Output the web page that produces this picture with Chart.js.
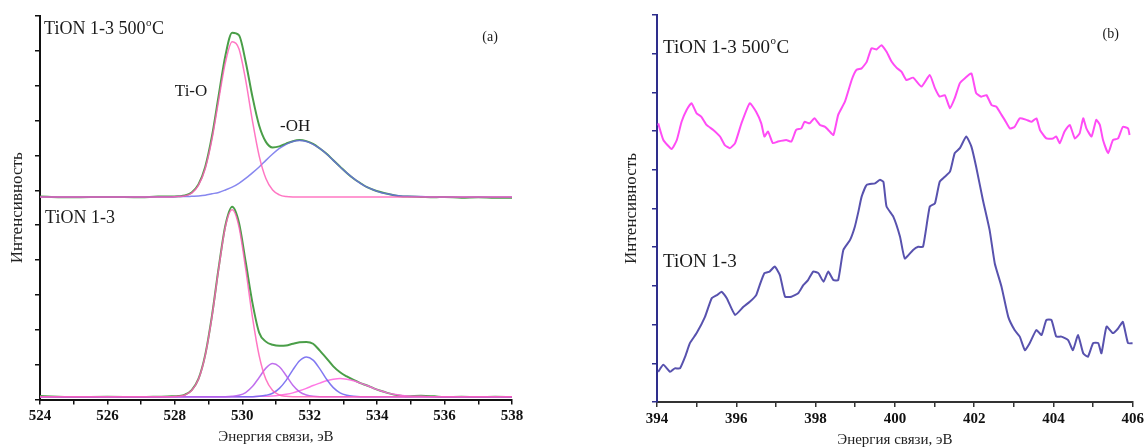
<!DOCTYPE html>
<html>
<head>
<meta charset="utf-8">
<script src="https://cdn.jsdelivr.net/npm/chart.js@4.4.1/dist/chart.umd.min.js"></script>
<style>
  html, body { margin: 0; padding: 0; background: #fff; }
  #wrap { position: relative; width: 1147px; height: 448px; }
  #chartO { position: absolute; left: 0; top: 0; }
  #chartN { position: absolute; left: 600px; top: 0; }
</style>
</head>
<body>
<div id="wrap">
  <canvas id="chartO" width="590" height="448"></canvas>
  <canvas id="chartN" width="547" height="448"></canvas>
</div>
<script>
// ---- (a) O1s: shared energy grid, eV
var energyO1s = [524, 525, 526, 527, 527.5, 527.9, 528.1, 528.3, 528.5, 528.7,
  528.9, 529.1, 529.3, 529.5, 529.7, 529.9, 530.1, 530.3, 530.5, 530.7,
  530.9, 531.1, 531.3, 531.5, 531.7, 531.9, 532.1, 532.3, 532.5, 532.7,
  532.9, 533.1, 533.3, 533.5, 533.7, 533.9, 534.1, 534.3, 534.5, 534.7,
  534.9, 535.3, 535.7, 536, 536.5, 537, 537.5, 538];

// TiON 1-3 500oC (upper trace)
var annealedSum = [5.82, 5.80, 5.81, 5.80, 5.82, 5.82, 5.83, 5.85, 5.94, 6.17,
  6.67, 7.55, 8.72, 9.87, 10.52, 10.45, 9.69, 8.69, 7.86, 7.39,
  7.23, 7.26, 7.34, 7.41, 7.44, 7.41, 7.33, 7.20, 7.05, 6.86,
  6.68, 6.50, 6.34, 6.21, 6.09, 6.01, 5.95, 5.90, 5.86, 5.83,
  5.82, 5.81, 5.80, 5.81, 5.79, 5.80, 5.79, 5.79];
var annealedTiO = [5.81, 5.81, 5.81, 5.81, 5.81, 5.81, 5.82, 5.84, 5.92, 6.14,
  6.62, 7.46, 8.59, 9.67, 10.26, 10.06, 9.16, 8.00, 6.99, 6.34,
  6.01, 5.87, 5.82, 5.81, 5.81, 5.81, 5.81, 5.81, 5.81, 5.81,
  5.81, 5.81, 5.81, 5.81, 5.81, 5.81, 5.81, 5.81, 5.81, 5.81,
  5.81, 5.81, 5.81, 5.81, 5.81, 5.81, 5.81, 5.81];
var annealedOH = [5.81, 5.81, 5.81, 5.81, 5.81, 5.81, 5.82, 5.82, 5.83, 5.84,
  5.86, 5.90, 5.94, 6.01, 6.09, 6.20, 6.34, 6.50, 6.67, 6.86,
  7.04, 7.20, 7.32, 7.40, 7.43, 7.40, 7.32, 7.20, 7.04, 6.86,
  6.67, 6.50, 6.34, 6.20, 6.09, 6.01, 5.94, 5.90, 5.86, 5.84,
  5.83, 5.82, 5.81, 5.81, 5.81, 5.81, 5.81, 5.81];

// TiON 1-3 (lower trace)
var asDepSum = [0.10, 0.07, 0.08, 0.07, 0.08, 0.09, 0.10, 0.14, 0.27, 0.59,
  1.28, 2.40, 3.78, 5.00, 5.53, 5.08, 3.95, 2.78, 1.92, 1.66,
  1.57, 1.54, 1.55, 1.60, 1.64, 1.65, 1.60, 1.40, 1.18, 0.95,
  0.78, 0.66, 0.56, 0.47, 0.40, 0.32, 0.25, 0.19, 0.14, 0.11,
  0.09, 0.11, 0.09, 0.07, 0.08, 0.07, 0.08, 0.07];
var asDepTiO = [0.08, 0.08, 0.08, 0.08, 0.08, 0.08, 0.09, 0.13, 0.26, 0.58,
  1.26, 2.37, 3.75, 4.96, 5.44, 4.96, 3.75, 2.37, 1.26, 0.58,
  0.26, 0.13, 0.09, 0.08, 0.08, 0.08, 0.08, 0.08, 0.08, 0.08,
  0.08, 0.08, 0.08, 0.08, 0.08, 0.08, 0.08, 0.08, 0.08, 0.08,
  0.08, 0.08, 0.08, 0.08, 0.08, 0.08, 0.08, 0.08];
var asDepPeak2 = [0.08, 0.08, 0.08, 0.08, 0.08, 0.08, 0.08, 0.08, 0.08, 0.08,
  0.08, 0.08, 0.08, 0.08, 0.09, 0.12, 0.20, 0.37, 0.63, 0.90,
  1.03, 0.94, 0.69, 0.41, 0.22, 0.13, 0.09, 0.08, 0.08, 0.08,
  0.08, 0.08, 0.08, 0.08, 0.08, 0.08, 0.08, 0.08, 0.08, 0.08,
  0.08, 0.08, 0.08, 0.08, 0.08, 0.08, 0.08, 0.08];
var asDepPeak3 = [0.08, 0.08, 0.08, 0.08, 0.08, 0.08, 0.08, 0.08, 0.08, 0.08,
  0.08, 0.08, 0.08, 0.08, 0.08, 0.08, 0.08, 0.08, 0.09, 0.12,
  0.18, 0.32, 0.55, 0.85, 1.11, 1.22, 1.13, 0.88, 0.58, 0.34,
  0.19, 0.12, 0.09, 0.08, 0.08, 0.08, 0.08, 0.08, 0.08, 0.08,
  0.08, 0.08, 0.08, 0.08, 0.08, 0.08, 0.08, 0.08];
var asDepPeak4 = [0.08, 0.08, 0.08, 0.08, 0.08, 0.08, 0.08, 0.08, 0.08, 0.08,
  0.08, 0.08, 0.08, 0.08, 0.08, 0.08, 0.08, 0.08, 0.09, 0.09,
  0.10, 0.12, 0.15, 0.19, 0.25, 0.32, 0.40, 0.47, 0.54, 0.58,
  0.60, 0.58, 0.54, 0.47, 0.40, 0.32, 0.25, 0.19, 0.15, 0.12,
  0.10, 0.09, 0.08, 0.08, 0.08, 0.08, 0.08, 0.08];

// ---- (b) N1s traces
var n1sAnnealedE = [394.03, 394.16, 394.37, 394.50, 394.62, 394.75, 394.87, 395.00, 395.12, 395.25,
  395.42, 395.59, 395.71, 395.84, 395.97, 396.13, 396.34, 396.50, 396.63, 396.71,
  396.80, 396.92, 397.05, 397.26, 397.39, 397.51, 397.64, 397.72, 397.85, 397.97,
  398.11, 398.24, 398.32, 398.45, 398.57, 398.74, 398.91, 399.03, 399.16, 399.29,
  399.41, 399.54, 399.66, 399.79, 399.92, 400.04, 400.17, 400.29, 400.46, 400.67,
  400.88, 401.01, 401.13, 401.26, 401.39, 401.51, 401.64, 401.76, 401.93, 402.05,
  402.18, 402.31, 402.44, 402.56, 402.69, 402.77, 402.90, 403.02, 403.15, 403.32,
  403.45, 403.57, 403.66, 403.82, 403.99, 404.07, 404.16, 404.28, 404.41, 404.54,
  404.66, 404.75, 404.83, 404.96, 405.08, 405.17, 405.25, 405.38, 405.50, 405.63,
  405.75, 405.88, 405.92];
var n1sAnnealedI = [7.20, 6.77, 6.54, 6.77, 7.24, 7.55, 7.72, 7.46, 7.37, 7.16,
  7.03, 6.86, 6.64, 6.56, 6.69, 7.20, 7.72, 7.50, 7.20, 6.86,
  6.99, 6.69, 6.73, 6.77, 6.73, 7.03, 7.07, 7.24, 7.20, 7.33,
  7.16, 7.11, 7.03, 6.90, 7.42, 7.76, 8.32, 8.58, 8.62, 8.79,
  9.14, 9.11, 9.22, 9.05, 8.79, 8.64, 8.53, 8.32, 8.38, 8.15,
  8.45, 8.11, 7.89, 7.93, 7.59, 7.85, 8.24, 8.36, 8.49, 7.98,
  7.89, 7.93, 7.67, 7.63, 7.42, 7.29, 7.07, 7.11, 7.33, 7.29,
  7.24, 7.33, 7.03, 6.81, 6.81, 6.86, 6.69, 6.99, 7.16, 6.81,
  6.94, 7.33, 7.07, 6.86, 7.29, 7.16, 6.77, 6.43, 6.77, 6.81,
  7.11, 7.07, 6.90];

var n1sAsDepE = [394.03, 394.16, 394.33, 394.45, 394.58, 394.71, 394.83, 395.00, 395.21, 395.38,
  395.51, 395.63, 395.76, 395.97, 396.18, 396.34, 396.50, 396.59, 396.71, 396.84,
  396.97, 397.10, 397.23, 397.39, 397.56, 397.69, 397.81, 397.94, 398.07, 398.20,
  398.32, 398.45, 398.57, 398.70, 398.87, 398.99, 399.08, 399.16, 399.29, 399.50,
  399.62, 399.71, 399.79, 399.96, 400.13, 400.25, 400.46, 400.59, 400.71, 400.88,
  401.01, 401.13, 401.26, 401.39, 401.51, 401.64, 401.80, 401.93, 402.05, 402.22,
  402.39, 402.52, 402.69, 402.86, 403.02, 403.15, 403.28, 403.40, 403.57, 403.70,
  403.82, 403.95, 404.07, 404.20, 404.37, 404.49, 404.62, 404.75, 404.87, 405.00,
  405.13, 405.21, 405.34, 405.50, 405.63, 405.75, 405.88, 406.00];
var n1sAsDepI = [0.78, 0.96, 0.78, 0.87, 0.87, 1.17, 1.52, 1.78, 2.20, 2.68,
  2.76, 2.85, 2.68, 2.25, 2.46, 2.59, 2.76, 3.02, 3.33, 3.37,
  3.50, 3.28, 2.72, 2.72, 2.81, 3.02, 3.15, 3.37, 3.33, 3.11,
  3.37, 3.15, 3.15, 3.93, 4.19, 4.53, 4.92, 5.30, 5.61, 5.65,
  5.74, 5.69, 5.05, 4.79, 4.27, 3.71, 3.93, 4.01, 4.01, 5.05,
  5.13, 5.69, 5.82, 5.95, 6.43, 6.56, 6.86, 6.60, 6.08, 5.22,
  4.44, 3.58, 2.98, 2.20, 1.86, 1.69, 1.34, 1.52, 1.86, 1.73,
  2.12, 2.12, 1.69, 1.69, 1.60, 1.34, 1.73, 1.26, 1.17, 1.52,
  1.52, 1.26, 1.95, 1.78, 1.90, 2.07, 1.52, 1.52];

var serif = '"Liberation Serif", "Times New Roman", serif';

function toPoints(xs, ys) {
  return xs.map(function(x, i) { return {x: x, y: ys[i]}; });
}

function line(xs, ys, color, width, smooth) {
  return {
    data: toPoints(xs, ys),
    borderColor: color,
    borderWidth: width,
    pointRadius: 0,
    fill: false,
    cubicInterpolationMode: smooth ? 'monotone' : 'default',
    tension: smooth ? 0.4 : 0.15
  };
}

function xAxis(min, max, height, color, titlePad, lineH) {
  return {
    type: 'linear', min: min, max: max,
    border: {display: true, color: color, width: 2},
    grid: {drawOnChartArea: false, drawTicks: true, tickLength: 5, color: color, lineWidth: 1.5},
    ticks: {
      stepSize: 1, autoSkip: false, maxRotation: 0, padding: 3, color: '#111',
      font: {family: serif, size: 15, weight: 'bold'},
      callback: function(v) { return v % 2 === 0 ? String(v) : ''; }
    },
    title: {display: true, text: 'Энергия связи, эВ', color: '#222',
      font: {family: serif, size: 15, lineHeight: lineH}, padding: {top: 0, bottom: titlePad}},
    afterFit: function(s) { s.height = height; }
  };
}

function yAxis(max, width, color, titlePad) {
  return {
    type: 'linear', min: 0, max: max,
    border: {display: true, color: color, width: 2},
    grid: {drawOnChartArea: false, drawTicks: true, tickLength: 5, color: color, lineWidth: 1.5},
    ticks: {display: false, stepSize: 1},
    title: {display: true, text: 'Интенсивность', color: '#222',
      font: {family: serif, size: 17}, padding: {top: titlePad, bottom: 0}},
    afterFit: function(s) { s.width = width; }
  };
}

// text labels placed in data units
var labelPlugin = {
  id: 'spectrumLabels',
  afterDraw: function(chart, args, opts) {
    var ctx = chart.ctx, xs = chart.scales.x, ys = chart.scales.y;
    opts.items.forEach(function(it) {
      var x = xs.getPixelForValue(it.x), y = ys.getPixelForValue(it.y);
      ctx.save();
      ctx.fillStyle = '#1a1a1a';
      ctx.textBaseline = 'middle';
      ctx.font = it.size + 'px ' + serif;
      ctx.fillText(it.text, x, y);
      if (it.sup) {
        x += ctx.measureText(it.text).width + 0.5;
        ctx.font = Math.round(it.size * 0.6) + 'px ' + serif;
        ctx.fillText(it.sup, x, y - it.size * 0.38);
        x += ctx.measureText(it.sup).width + 0.5;
        ctx.font = it.size + 'px ' + serif;
        ctx.fillText(it.tail, x, y);
      }
      ctx.restore();
    });
  }
};

new Chart(document.getElementById('chartO'), {
  type: 'line',
  data: {
    datasets: [
      line(energyO1s, annealedTiO, 'rgba(255, 95, 185, 0.85)', 1.5, true),
      line(energyO1s, annealedOH, 'rgba(105, 105, 235, 0.8)', 1.5, true),
      line(energyO1s, asDepTiO, 'rgba(255, 95, 185, 0.85)', 1.5, true),
      line(energyO1s, asDepPeak2, 'rgba(185, 95, 235, 0.9)', 1.5, true),
      line(energyO1s, asDepPeak3, 'rgba(115, 105, 240, 0.9)', 1.5, true),
      line(energyO1s, asDepPeak4, 'rgba(255, 105, 225, 0.9)', 1.5, true),
      line(energyO1s, annealedSum, '#4a9e48', 2, true),
      line(energyO1s, asDepSum, '#4a9e48', 2, true)
    ]
  },
  options: {
    responsive: false,
    animation: false,
    devicePixelRatio: 1,
    layout: {padding: {left: 0, right: 78, top: 16, bottom: 0}},
    scales: {
      x: xAxis(524, 538, 48.5, '#111', 2, 1.2),
      y: yAxis(11, 40, '#111', 7)
    },
    plugins: {
      legend: {display: false},
      tooltip: {enabled: false},
      spectrumLabels: {items: [
        {text: 'TiON 1-3 500', sup: 'o', tail: 'C', x: 524.12, y: 10.61, size: 18},
        {text: 'TiON 1-3', x: 524.15, y: 5.21, size: 18},
        {text: 'Ti-O', x: 528.0, y: 8.84, size: 17},
        {text: '-OH', x: 531.12, y: 7.84, size: 17},
        {text: '(a)', x: 537.12, y: 10.39, size: 14}
      ]}
    }
  },
  plugins: [labelPlugin]
});

new Chart(document.getElementById('chartN'), {
  type: 'line',
  data: {
    datasets: [
      line(n1sAnnealedE, n1sAnnealedI, '#ff4cf5', 2, false),
      line(n1sAsDepE, n1sAsDepI, '#5852ae', 2, false)
    ]
  },
  options: {
    responsive: false,
    animation: false,
    devicePixelRatio: 1,
    layout: {padding: {left: 0, right: 14, top: 15, bottom: 0}},
    scales: {
      x: xAxis(394, 406, 46, '#333', 0, 1),
      y: yAxis(10, 57, '#2e2e8c', 21)
    },
    plugins: {
      legend: {display: false},
      tooltip: {enabled: false},
      spectrumLabels: {items: [
        {text: 'TiON 1-3 500', sup: 'o', tail: 'C', x: 394.15, y: 9.15, size: 19},
        {text: 'TiON 1-3', x: 394.15, y: 3.62, size: 19},
        {text: '(b)', x: 405.24, y: 9.51, size: 14}
      ]}
    }
  },
  plugins: [labelPlugin]
});
</script>
</body>
</html>
